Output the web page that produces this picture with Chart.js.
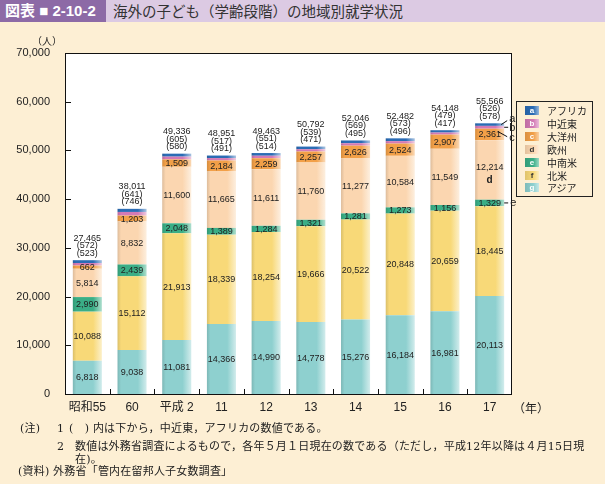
<!DOCTYPE html>
<html>
<head>
<meta charset="utf-8">
<script src="https://cdn.jsdelivr.net/npm/chart.js@4"></script>
<style>
  body { margin: 0; background: #fdefd4; font-family: "Liberation Sans", "Noto Sans CJK JP", sans-serif; color: #222; }
  #wrap { position: relative; width: 605px; height: 484px; overflow: hidden; }
  #chart { position: absolute; left: 0; top: 0; }
  .abs { position: absolute; white-space: nowrap; }
  #titlebar { left: 0; top: 0; width: 605px; height: 22px; background: #dccae3; }
  #tag { left: 0; top: 0; width: 106px; height: 22px; background: #8d6aa6; color: #fff; font-weight: bold; font-size: 15px; line-height: 22px; padding-left: 5px; box-sizing: border-box; }
  #title { left: 113px; top: 0; font-size: 14.5px; line-height: 22px; color: #333; font-family: "Noto Sans CJK JP", sans-serif; }
  .note { font-family: "DejaVu Serif", "Noto Sans CJK JP", serif; font-size: 11px; line-height: 12px; letter-spacing: 0.2px; }
  #legend { left: 516px; top: 101px; width: 77px; height: 96px; border: 1px solid #222; box-sizing: border-box; }
  .lg { position: absolute; left: 8px; font-size: 10px; line-height: 10px; font-family: "Noto Sans CJK JP", sans-serif; }
  .sw { display: inline-block; width: 14px; height: 9px; font-size: 8px; line-height: 9px; text-align: center; font-family: "Liberation Sans", sans-serif; font-weight: bold; vertical-align: top; margin-right: 8px; }
</style>
</head>
<body>
<div id="wrap">
  <canvas id="chart" width="605" height="484"></canvas>
  <div class="abs" id="titlebar"></div>
  <div class="abs" id="tag">図表 ■ 2-10-2</div>
  <div class="abs" id="title">海外の子ども（学齢段階）の地域別就学状況</div>
  <div class="abs" style="left:32px;top:33px;font-size:10px;font-family:'Noto Sans CJK JP';">（人）</div>
  <div class="abs" style="left:513px;top:399px;font-size:12px;font-family:'Noto Sans CJK JP';">（年）</div>
  <div class="abs" id="legend"></div>
  <div class="abs note" style="left:20px;top:423px;">(注)</div>
  <div class="abs note" style="left:57px;top:423px;">1</div>
  <div class="abs note" style="left:69px;top:423px;">(　) 内は下から，中近東，アフリカの数値である。</div>
  <div class="abs note" style="left:57px;top:441px;">2</div>
  <div class="abs note" style="left:75px;top:441px;">数値は外務省調査によるもので，各年５月１日現在の数である（ただし，平成12年以降は４月15日現</div>
  <div class="abs note" style="left:75px;top:454px;">在)。</div>
  <div class="abs note" style="left:18px;top:466px;">(資料) 外務省「管内在留邦人子女数調査」</div>
</div>
<script>
var categories = ['昭和55', '60', '平成 2', '11', '12', '13', '14', '15', '16', '17'];
var asia = [6818, 9038, 11081, 14366, 14990, 14778, 15276, 16184, 16981, 20113];
var northAmerica = [10088, 15112, 21913, 18339, 18254, 19666, 20522, 20848, 20659, 18445];
var latinAmerica = [2990, 2439, 2048, 1389, 1284, 1321, 1281, 1273, 1156, 1329];
var europe = [5814, 8832, 11600, 11665, 11611, 11760, 11277, 10584, 11549, 12214];
var oceania = [662, 1203, 1509, 2184, 2259, 2257, 2626, 2524, 2907, 2361];
var middleEast = [523, 746, 580, 491, 514, 471, 495, 496, 417, 578];
var africa = [572, 641, 605, 517, 551, 539, 569, 573, 479, 526];
var totals = [27465, 38011, 49336, 48951, 49463, 50792, 52046, 52482, 54148, 55566];
var yTicks = [0, 10000, 20000, 30000, 40000, 50000, 60000, 70000];

// bottom to top
var seriesNames = ['アジア', '北米', '中南米', '欧州', '大洋州', '中近東', 'アフリカ'];
var seriesLetters = ['g', 'f', 'e', 'd', 'c', 'b', 'a'];
var seriesColors = ['#8ed0cf', '#f8d978', '#3aae86', '#fbd6b0', '#f2a048', '#d47ab5', '#2b6cb5'];
var seriesData = [asia, northAmerica, latinAmerica, europe, oceania, middleEast, africa];

function fmt(v) { return v.toLocaleString('en-US'); }

function shade(hex, amt) {
    var n = parseInt(hex.slice(1), 16);
    var r = n >> 16, g = (n >> 8) & 255, b = n & 255;
    function f(c) { return Math.round(amt < 0 ? c * (1 + amt) : c + (255 - c) * amt); }
    return 'rgb(' + f(r) + ',' + f(g) + ',' + f(b) + ')';
}

// horizontal shading of each bar, taken from the x scale
function barFill(color) {
    return function (ctx) {
        var chart = ctx.chart;
        var xs = chart.scales.x;
        if (!xs || !chart.chartArea || ctx.dataIndex === undefined) return color;
        var cx = xs.getPixelForValue(ctx.dataIndex);
        var half = xs.width / categories.length * 0.65 / 2;
        var g = chart.ctx.createLinearGradient(cx - half, 0, cx + half, 0);
        g.addColorStop(0, shade(color, -0.12));
        g.addColorStop(0.12, color);
        g.addColorStop(0.7, color);
        g.addColorStop(1, shade(color, 0.6));
        return g;
    };
}

// legend
var legendEl = document.getElementById('legend');
for (var k = 6; k >= 0; k--) {
    var row = document.createElement('div');
    row.className = 'lg';
    row.style.top = (4 + (6 - k) * 12.9) + 'px';
    var dark = (k === 1 || k === 3);
    row.innerHTML = '<span class="sw" style="background:linear-gradient(90deg,' + shade(seriesColors[k], -0.1) + ',' +
        seriesColors[k] + ' 60%,' + shade(seriesColors[k], 0.5) + ');color:' + (dark ? '#333' : '#fff') + '">' +
        seriesLetters[k] + '</span>' + seriesNames[k];
    legendEl.appendChild(row);
}

var datasets = seriesData.map(function (d, i) {
    return {
        label: seriesNames[i],
        data: d,
        backgroundColor: barFill(seriesColors[i]),
        borderWidth: 0,
        categoryPercentage: 1,
        barPercentage: 0.65
    };
});

var decor = {
    id: 'decor',
    beforeDraw: function (chart) {
        var a = chart.chartArea, c = chart.ctx;
        c.save();
        c.fillStyle = '#fff';
        c.fillRect(a.left, a.top, a.right - a.left, a.bottom - a.top);
        c.restore();
    },
    afterDatasetsDraw: function (chart) {
        var a = chart.chartArea, c = chart.ctx;
        var xs = chart.scales.x, ys = chart.scales.y;
        c.save();
        c.strokeStyle = '#111';
        c.lineWidth = 1;
        c.strokeRect(Math.round(a.left) + 0.5, Math.round(a.top) + 0.5, Math.round(a.right - a.left) - 1, Math.round(a.bottom - a.top));
        c.beginPath();
        yTicks.forEach(function (t) {
            var y = Math.round(ys.getPixelForValue(t)) + 0.5;
            c.moveTo(a.left, y); c.lineTo(a.left + 6, y);
        });
        var cw = (a.right - a.left) / categories.length;
        for (var i = 1; i < categories.length; i++) {
            var x = Math.round(a.left + i * cw) + 0.5;
            c.moveTo(x, a.bottom); c.lineTo(x, a.bottom - 5);
        }
        c.stroke();

        // segment values
        c.fillStyle = '#222';
        c.textAlign = 'center';
        c.textBaseline = 'middle';
        c.font = '9px "Liberation Sans"';
        for (var ds = 0; ds < 5; ds++) {
            chart.getDatasetMeta(ds).data.forEach(function (el, i) {
                var y = (el.y + el.base) / 2;
                if (ds === 3 && i === categories.length - 1) y -= 3;
                c.fillText(fmt(seriesData[ds][i]), el.x, y + 0.5);
            });
        }
        // totals with (アフリカ) and (中近東)
        chart.getDatasetMeta(6).data.forEach(function (el, i) {
            c.fillText(fmt(totals[i]), el.x, el.y - 22);
            c.fillText('(' + fmt(africa[i]) + ')', el.x, el.y - 14.5);
            c.fillText('(' + fmt(middleEast[i]) + ')', el.x, el.y - 7);
        });

        // letter callouts on the last bar
        var last = categories.length - 1;
        var ea = chart.getDatasetMeta(6).data[last];
        var eb = chart.getDatasetMeta(5).data[last];
        var ec = chart.getDatasetMeta(4).data[last];
        var ed = chart.getDatasetMeta(3).data[last];
        var ee = chart.getDatasetMeta(2).data[last];
        var right = ea.x + ea.width / 2;
        c.font = '11px "Liberation Sans"';
        c.textAlign = 'left';
        c.beginPath();
        var ya = (ea.y + ea.base) / 2;
        c.moveTo(right - 3, ya); c.lineTo(right + 3, ya - 4);
        var yb = (eb.y + eb.base) / 2;
        c.moveTo(right, yb); c.lineTo(right + 4, yb);
        c.moveTo(right - 6, ec.y + 3); c.lineTo(right + 3, ec.y + 8);
        var ye = (ee.y + ee.base) / 2;
        c.moveTo(right, ye); c.lineTo(right + 4, ye);
        c.stroke();
        c.fillText('a', right + 5, ya - 6);
        c.fillText('b', right + 5, yb + 1);
        c.fillText('c', right + 5, ec.y + 9);
        c.fillText('e', right + 6, ye);
        c.font = 'bold 10px "Liberation Sans"';
        c.textAlign = 'center';
        c.fillText('d', ed.x, (ed.y + ed.base) / 2 + 10);
        c.restore();
    }
};

new Chart(document.getElementById('chart').getContext('2d'), {
    type: 'bar',
    data: { labels: categories, datasets: datasets },
    options: {
        responsive: false,
        animation: false,
        devicePixelRatio: 1,
        layout: { padding: { left: 0, right: 93, top: 53, bottom: 58 } },
        plugins: { legend: { display: false }, tooltip: { enabled: false } },
        scales: {
            x: {
                stacked: true,
                grid: { display: false },
                border: { display: false },
                ticks: { color: '#222', padding: -2, font: { size: 12, family: '"Liberation Sans", "Noto Sans CJK JP"' }, maxRotation: 0 },
                afterFit: function (s) { s.height = 32; }
            },
            y: {
                stacked: true,
                min: 0,
                max: 70000,
                grid: { display: false },
                border: { display: false },
                afterBuildTicks: function (s) { s.ticks = yTicks.map(function (v) { return { value: v }; }); },
                ticks: { color: '#222', padding: 7, font: { size: 11, family: '"Liberation Sans"' }, callback: function (v) { return fmt(v); } },
                afterFit: function (s) { s.width = 65; }
            }
        }
    },
    plugins: [decor]
});
</script>
</body>
</html>
